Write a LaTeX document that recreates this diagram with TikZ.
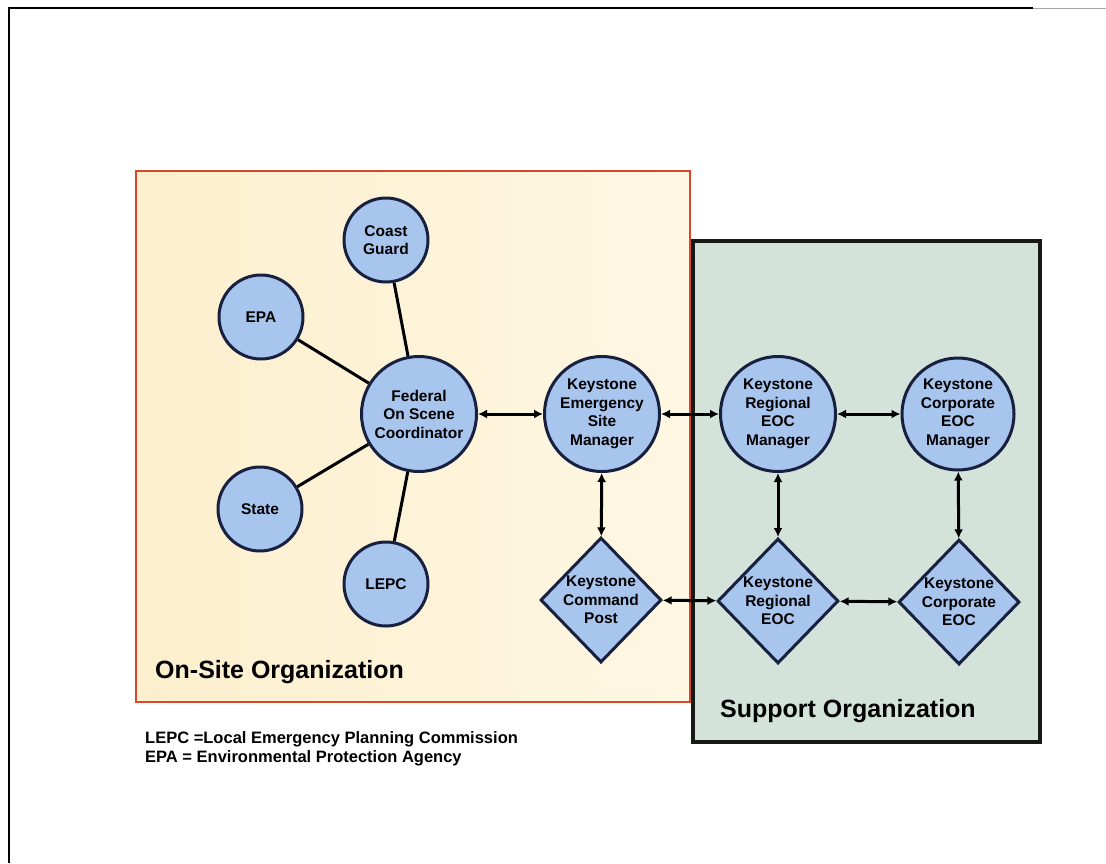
\documentclass[tikz,border=0pt]{standalone}
\usepackage{fontspec}
\setmainfont{Liberation Sans}
\usetikzlibrary{shapes.geometric,arrows.meta}
\definecolor{circfill}{HTML}{A8C5EE}
\definecolor{circdraw}{HTML}{18203F}
\definecolor{orline}{HTML}{D5482A}
\definecolor{orfillA}{HTML}{FCEFCD}
\definecolor{orfillB}{HTML}{FEF7E3}
\definecolor{grfill}{HTML}{D4E3D9}
\definecolor{grline}{HTML}{151A15}
\begin{document}
\begin{tikzpicture}[x=1pt,y=-1pt,
  circ/.style={circle,draw=circdraw,fill=circfill,line width=3pt,inner sep=0pt,align=center,
    font=\fontsize{15.5}{18.5}\selectfont\bfseries},
  bigc/.style={circ,minimum size=115pt},
  smallc/.style={circ,minimum size=84pt},
  dia/.style={diamond,draw=circdraw,fill=circfill,line width=3pt,inner sep=0pt,
    minimum width=121pt,minimum height=125pt},
  lbl/.style={align=center,inner sep=0pt,font=\fontsize{15.5}{18.5}\selectfont\bfseries},
  link/.style={line width=3pt,draw=black},
  biarrow/.style={line width=3pt,draw=black,{Latex[length=9pt,width=9pt]}-{Latex[length=9pt,width=9pt]}},
  title/.style={anchor=base west,inner sep=0pt,font=\fontsize{25}{30}\selectfont\bfseries},
  legend/.style={anchor=base west,inner sep=0pt,font=\fontsize{16.5}{19}\selectfont\bfseries}
]
\useasboundingbox (0,0) rectangle (1106,863);
\fill[white] (0,0) rectangle (1106,863);
% page frame
\draw[line width=2pt,black] (9,863) -- (9,8) -- (1033,8);
\draw[line width=1pt,black!35] (1033,8) -- (1106,8);
% boxes
\path[left color=orfillA,right color=orfillB,draw=orline,line width=2pt] (136,171) rectangle (690,702);
\path[fill=grfill,draw=grline,line width=3.5pt] (693,241) rectangle (1040,742);
% nodes
\node[bigc] (fed) at (419,414) {Federal\\On Scene\\Coordinator};
\node[smallc] (cg) at (386,240) {Coast\\Guard};
\node[smallc] (epa) at (261,317) {EPA};
\node[smallc] (state) at (260,509) {State};
\node[smallc] (lepc) at (386,584) {LEPC};
\node[bigc] (esm) at (602,414) {Keystone\\Emergency\\Site\\Manager};
\node[bigc] (rem) at (778,414) {Keystone\\Regional\\EOC\\Manager};
\node[bigc,minimum size=112pt] (cem) at (958,414) {Keystone\\Corporate\\EOC\\Manager};
\node[dia,label={[lbl]center:Keystone\\Command\\Post}] (kcp) at (601,600) {};
\node[dia,label={[lbl]center:Keystone\\Regional\\EOC}] (reoc) at (778,601) {};
\node[dia,label={[lbl]center:Keystone\\Corporate\\EOC}] (ceoc) at (959,602) {};
% links
\draw[link] (fed) -- (cg);
\draw[link] (fed) -- (epa);
\draw[link] (fed) -- (state);
\draw[link] (fed) -- (lepc);
% arrows
\draw[biarrow] (fed) -- (esm);
\draw[biarrow] (esm) -- (rem);
\draw[biarrow] (rem) -- (cem);
\draw[biarrow] (esm) -- (kcp);
\draw[biarrow] (rem) -- (reoc);
\draw[biarrow] (cem) -- (ceoc);
\draw[biarrow] (kcp) -- (reoc);
\draw[biarrow] (reoc) -- (ceoc);
% titles
\node[title] (onsite) at (155,678) {On-Site Organization};
\node[title] (support) at (720,717) {Support Organization};
\node[legend] (leg1) at (145,743) {LEPC =Local Emergency Planning Commission};
\node[legend] (leg2) at (145,762) {EPA = Environmental Protection Agency};
\end{tikzpicture}
\end{document}
